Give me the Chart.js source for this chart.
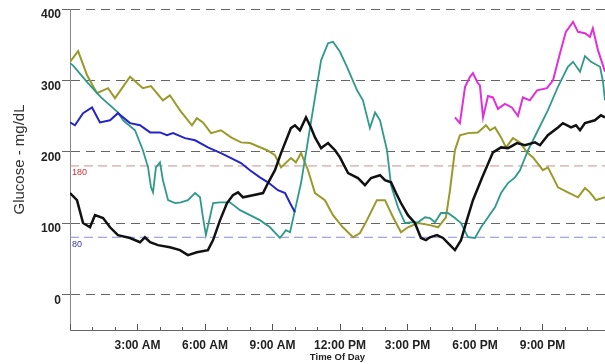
<!DOCTYPE html>
<html>
<head>
<meta charset="UTF-8">
<script src="https://cdn.jsdelivr.net/npm/chart.js"></script>
<title>Glucose - Time Of Day</title>
<style>
  body { margin: 0; background: #fff; }
  #wrap { width: 605px; height: 364px; }
</style>
</head>
<body>
<div id="wrap"><canvas id="grafico" width="605" height="364"></canvas></div>
<script>
  // eixo x em horas (0 = meia-noite)
  var hourTicks = [3, 6, 9, 12, 15, 18, 21];
  var hourLabels = ['3:00 AM', '6:00 AM', '9:00 AM', '12:00 PM', '3:00 PM', '6:00 PM', '9:00 PM'];
  var yTicks = [0, 100, 200, 300, 400];
  var limitHigh = 180;
  var limitLow = 80;

  // [hora, mg/dL]
  var olive = [[0,326],[0.36,341],[0.76,307],[1.2,282],[1.69,289],[2,275],[2.67,305],[3.24,289],[3.6,292],[4.13,272],[4.44,279],[4.89,258],[5.42,237],[5.64,247],[5.91,241],[6.27,226],[6.71,230],[7.16,220],[7.6,213],[8,212],[8.76,202],[9.11,195],[9.38,178],[9.82,191],[10.04,185],[10.27,198],[10.58,174],[10.89,142],[11.33,132],[11.69,111],[12.13,94],[12.58,80],[12.89,86],[13.2,104],[13.64,132],[14,132],[14.36,108],[14.71,87],[15.02,94],[15.47,100],[16,97],[16.36,94],[16.71,108],[16.89,146],[17.11,202],[17.33,223],[17.69,226],[18.13,227],[18.49,237],[18.67,230],[18.89,234],[19.16,220],[19.38,206],[19.69,219],[20,213],[20.31,199],[20.58,192],[21.02,174],[21.24,178],[21.47,164],[21.69,150],[22.13,143],[22.58,136],[22.89,149],[23.11,143],[23.38,132],[23.78,136]];
  var teal = [[0,324],[0.13,321],[0.8,296],[1.38,276],[2.13,255],[2.36,244],[2.89,230],[3.24,202],[3.47,178],[3.6,150],[3.69,143],[3.82,178],[4,185],[4.13,160],[4.36,132],[4.67,128],[4.93,129],[5.24,132],[5.56,142],[5.78,136],[5.91,108],[6.04,83],[6.22,108],[6.36,128],[6.67,129],[7.11,129],[7.56,118],[8,111],[8.44,104],[8.89,94],[9.33,79],[9.6,90],[9.78,87],[10,118],[10.27,156],[10.58,216],[10.89,276],[11.16,328],[11.47,352],[11.69,354],[12,340],[12.31,319],[12.76,286],[13.02,272],[13.33,233],[13.56,255],[13.78,244],[14.09,202],[14.27,153],[14.58,122],[14.89,100],[15.16,101],[15.47,101],[15.78,108],[16,107],[16.22,101],[16.49,114],[16.8,114],[17.11,107],[17.38,100],[17.69,80],[18,79],[18.27,94],[18.58,108],[18.89,122],[19.16,142],[19.47,156],[19.78,164],[20,174],[20.36,202],[20.8,230],[21.24,258],[21.69,291],[22.13,319],[22.36,326],[22.67,312],[22.89,334],[23.16,326],[23.56,319],[23.69,298],[23.78,272]];
  var blue = [[0,241],[0.22,237],[0.58,254],[0.98,262],[1.33,241],[1.78,244],[2.13,254],[2.67,240],[3.11,237],[3.56,227],[4,227],[4.31,223],[4.58,226],[5.11,219],[5.56,216],[6.13,206],[6.71,198],[7.16,191],[7.6,184],[8,174],[8.44,164],[8.8,157],[9.24,146],[9.56,142],[9.78,128],[10,115]];
  var black = [[0,142],[0.31,132],[0.58,100],[0.89,94],[1.11,111],[1.47,107],[1.78,94],[2.13,83],[2.67,79],[3.11,73],[3.33,80],[3.56,73],[3.91,69],[4.44,66],[4.89,62],[5.24,55],[5.64,59],[6.13,62],[6.36,76],[6.67,104],[6.98,128],[7.24,139],[7.47,143],[7.69,136],[8.13,139],[8.58,142],[8.8,156],[9.11,174],[9.38,198],[9.82,233],[10,237],[10.22,230],[10.49,248],[10.71,234],[10.89,220],[11.16,205],[11.47,212],[11.78,202],[12,192],[12.36,170],[12.8,163],[13.11,153],[13.38,163],[13.78,167],[14,160],[14.27,157],[14.49,142],[14.71,128],[15.02,111],[15.33,100],[15.6,79],[15.82,76],[16,80],[16.31,83],[16.58,79],[16.89,69],[17.11,62],[17.38,76],[17.64,104],[17.91,132],[18.31,163],[18.8,199],[19.16,206],[19.47,205],[19.87,212],[20.22,209],[20.67,213],[20.89,209],[21.24,223],[21.69,234],[21.91,240],[22.27,234],[22.49,237],[22.67,230],[22.89,240],[23.33,244],[23.6,251],[23.78,248]];
  var magenta = [[17.11,248],[17.33,240],[17.56,291],[17.78,305],[17.91,310],[18.13,296],[18.22,293],[18.36,248],[18.58,278],[18.8,276],[19.02,260],[19.33,267],[19.64,262],[19.91,250],[20.13,276],[20.44,272],[20.76,286],[21.2,289],[21.47,300],[21.78,338],[22.04,368],[22.36,382],[22.58,368],[22.89,366],[23.11,361],[23.24,373],[23.47,342],[23.69,321],[23.78,312]];

  var fonte = '"Liberation Sans", Arial, sans-serif';

  function pontos(serie) {
    return serie.map(function (p) { return { x: p[0], y: p[1] }; });
  }

  function linha(serie, cor, largura) {
    return {
      data: pontos(serie),
      borderColor: cor,
      borderWidth: largura,
      pointRadius: 0,
      tension: 0,
      fill: false
    };
  }

  function limite(valor, cor) {
    return {
      data: [{ x: 0, y: valor }, { x: 24, y: valor }],
      borderColor: cor,
      borderWidth: 1,
      borderDash: [9, 5],
      pointRadius: 0,
      fill: false
    };
  }

  var extras = {
    id: 'extras',
    beforeDraw: function (chart) {
      var ctx = chart.ctx;
      ctx.save();
      ctx.fillStyle = '#fff';
      ctx.fillRect(0, 0, chart.width, chart.height);
      ctx.restore();
    },
    afterDraw: function (chart) {
      var ctx = chart.ctx;
      var x = chart.scales.x;
      var y = chart.scales.y;
      ctx.save();
      // marcas do eixo x, para dentro
      ctx.strokeStyle = '#555';
      ctx.lineWidth = 1;
      for (var h = 0; h <= 23; h++) {
        var px = Math.round(x.getPixelForValue(h)) + 0.5;
        var len = h % 3 === 0 ? 6 : 3;
        ctx.beginPath();
        ctx.moveTo(px, y.bottom);
        ctx.lineTo(px, y.bottom - len);
        ctx.stroke();
      }
      // rotulos dos limites
      ctx.font = '9px ' + fonte;
      ctx.textAlign = 'left';
      ctx.textBaseline = 'middle';
      ctx.fillStyle = '#d83030';
      ctx.fillText(String(limitHigh), x.left + 2, y.getPixelForValue(limitHigh) + 7);
      ctx.fillStyle = '#3535c0';
      ctx.fillText(String(limitLow), x.left + 2, y.getPixelForValue(limitLow) + 7);
      // titulo do eixo y
      ctx.translate(20, (y.top + y.bottom) / 2 - 10);
      ctx.rotate(-Math.PI / 2);
      ctx.textAlign = 'center';
      ctx.fillStyle = '#333';
      ctx.font = '15px ' + fonte;
      ctx.fillText('Glucose - mg/dL', 0, 0);
      ctx.restore();
    }
  };

  new Chart(document.getElementById('grafico'), {
    type: 'line',
    data: {
      datasets: [
        linha(black, '#111111', 2.5),
        linha(magenta, '#e030dc', 2),
        linha(blue, '#2424c8', 2),
        linha(teal, '#2f9a8a', 1.8),
        linha(olive, '#999a2a', 2),
        limite(limitHigh, '#c89090'),
        limite(limitLow, '#8a8ae6')
      ]
    },
    options: {
      responsive: false,
      animation: false,
      devicePixelRatio: 1,
      layout: { padding: { top: 9, right: 0, bottom: 0, left: 0 } },
      plugins: { legend: { display: false }, tooltip: { enabled: false } },
      scales: {
        x: {
          type: 'linear',
          min: 0,
          max: 23.78,
          afterBuildTicks: function (s) { s.ticks = hourTicks.map(function (v) { return { value: v }; }); },
          afterFit: function (s) { s.height = 34; },
          grid: { display: false, drawTicks: false },
          border: { color: '#666', width: 1 },
          ticks: {
            padding: 8,
            maxRotation: 0,
            autoSkip: false,
            color: '#222',
            font: { family: fonte, size: 12, weight: 'bold' },
            callback: function (v) { var i = hourTicks.indexOf(v); return i >= 0 ? hourLabels[i] : ''; }
          },
          title: {
            display: true,
            text: 'Time Of Day',
            color: '#222',
            font: { family: fonte, size: 9.5, weight: 'bold' },
            padding: { top: 0, bottom: 1 }
          }
        },
        y: {
          min: -50,
          max: 400,
          afterBuildTicks: function (s) { s.ticks = yTicks.map(function (v) { return { value: v }; }); },
          afterFit: function (s) { s.width = 70; },
          grid: { color: '#666', lineWidth: 1, drawTicks: true, tickLength: 8 },
          border: { color: '#888', width: 1, dash: [9, 6] },
          ticks: {
            padding: 1,
            labelOffset: 6,
            color: '#222',
            font: { family: fonte, size: 12, weight: 'bold' }
          }
        }
      }
    },
    plugins: [extras]
  });
</script>
</body>
</html>
